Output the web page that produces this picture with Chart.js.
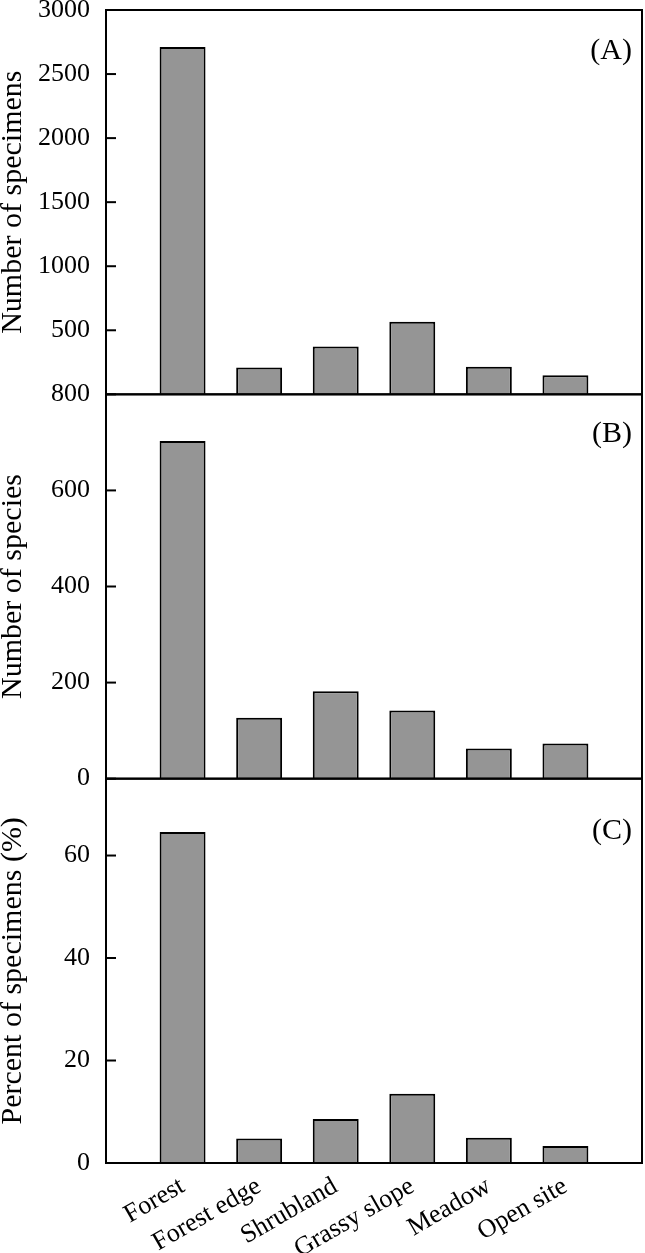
<!DOCTYPE html>
<html>
<head>
<meta charset="utf-8">
<script src="https://cdn.jsdelivr.net/npm/chart.js@4"></script>
<style>
  body { margin: 0; background: #fff; }
</style>
</head>
<body>
<canvas id="mycanvas" width="645" height="1253"></canvas>
<script>
// habitat categories
var categories = ['Forest', 'Forest edge', 'Shrubland', 'Grassy slope', 'Meadow', 'Open site'];

// (A) number of specimens, (B) number of species, (C) percent of specimens
var specimens = [2712, 210, 374, 567, 216, 148];
var species   = [703, 127, 182, 142, 63, 73];
var percent   = [64.6, 4.8, 8.6, 13.5, 4.95, 3.3];

// tick labels shown on each panel
var ticksA = [500, 1000, 1500, 2000, 2500, 3000];
var ticksB = [0, 200, 400, 600, 800];
var ticksC = [0, 20, 40, 60];

var panelNames = ['(A)', '(B)', '(C)'];

Chart.defaults.font.family = "'Liberation Serif', 'Times New Roman', serif";
Chart.defaults.color = '#000';

// blank slot at each end so bars sit one step in from the frame
var labels = [''].concat(categories, ['']);
function pad(arr) { return [null].concat(arr, [null]); }

function noPadding(scale) {
    scale.paddingTop = 0;
    scale.paddingBottom = 0;
    scale.paddingLeft = 0;
    scale.paddingRight = 0;
}

function barSet(vals, axis) {
    return {
        data: pad(vals),
        yAxisID: axis,
        grouped: false,
        backgroundColor: '#959595',
        borderColor: '#000',
        borderWidth: 2,
        barPercentage: 0.6,
        categoryPercentage: 1
    };
}

function yAxis(max, tickList, title) {
    return {
        type: 'linear',
        position: 'left',
        stack: 'panels',
        stackWeight: 1,
        min: 0,
        max: max,
        afterBuildTicks: function (scale) {
            scale.ticks = tickList.map(function (v) { return {value: v}; });
        },
        afterFit: function (scale) {
            scale.width = 106;
            noPadding(scale);
        },
        border: { display: true, color: '#000', width: 2 },
        grid: { display: false, drawTicks: false },
        ticks: {
            padding: 16,
            font: { size: 26 },
            color: '#000',
            callback: function (v) { return String(v); }
        },
        title: {
            display: true,
            text: title,
            color: '#000',
            font: { size: 30, lineHeight: 0.85 },
            padding: { top: 0, bottom: 0 }
        }
    };
}

// frame around each panel, inward tick marks, panel letter
var framePlugin = {
    id: 'frames',
    afterDraw: function (chart) {
        var c = chart.ctx;
        var area = chart.chartArea;
        var ids = ['yA', 'yB', 'yC'];
        var offs = [41, 40, 52];
        c.save();
        c.strokeStyle = '#000';
        c.fillStyle = '#000';
        c.font = "30px 'Liberation Serif'";
        c.textAlign = 'right';
        c.textBaseline = 'middle';
        for (var i = 0; i < ids.length; i++) {
            var s = chart.scales[ids[i]];
            c.lineWidth = 2;
            c.strokeRect(area.left, s.top, area.right - area.left, s.bottom - s.top);
            for (var j = 0; j < s.ticks.length; j++) {
                var ty = s.getPixelForValue(s.ticks[j].value);
                c.beginPath();
                c.moveTo(area.left, ty);
                c.lineTo(area.left + 10, ty);
                c.stroke();
            }
            c.fillText(panelNames[i], area.right - 10, s.top + offs[i]);
        }
        c.restore();
    }
};

var canvas = document.getElementById('mycanvas');
var chart = new Chart(canvas, {
    type: 'bar',
    data: {
        labels: labels,
        datasets: [
            barSet(specimens, 'yA'),
            barSet(species, 'yB'),
            barSet(percent, 'yC')
        ]
    },
    options: {
        responsive: false,
        animation: false,
        layout: { padding: { top: 10, right: 3, bottom: 0, left: 0 } },
        plugins: {
            legend: { display: false },
            tooltip: { enabled: false }
        },
        scales: {
            x: {
                offset: false,
                afterFit: function (scale) {
                    scale.height = 90;
                    noPadding(scale);
                },
                border: { display: true, color: '#000', width: 2 },
                grid: { display: false },
                ticks: {
                    minRotation: 30,
                    maxRotation: 30,
                    autoSkip: false,
                    padding: 0,
                    font: { size: 26 },
                    color: '#000'
                }
            },
            yC: yAxis(75, ticksC, 'Percent of specimens (%)'),
            yB: yAxis(800, ticksB, 'Number of species'),
            yA: yAxis(3000, ticksA, 'Number of specimens')
        }
    },
    plugins: [framePlugin]
});
</script>
</body>
</html>
